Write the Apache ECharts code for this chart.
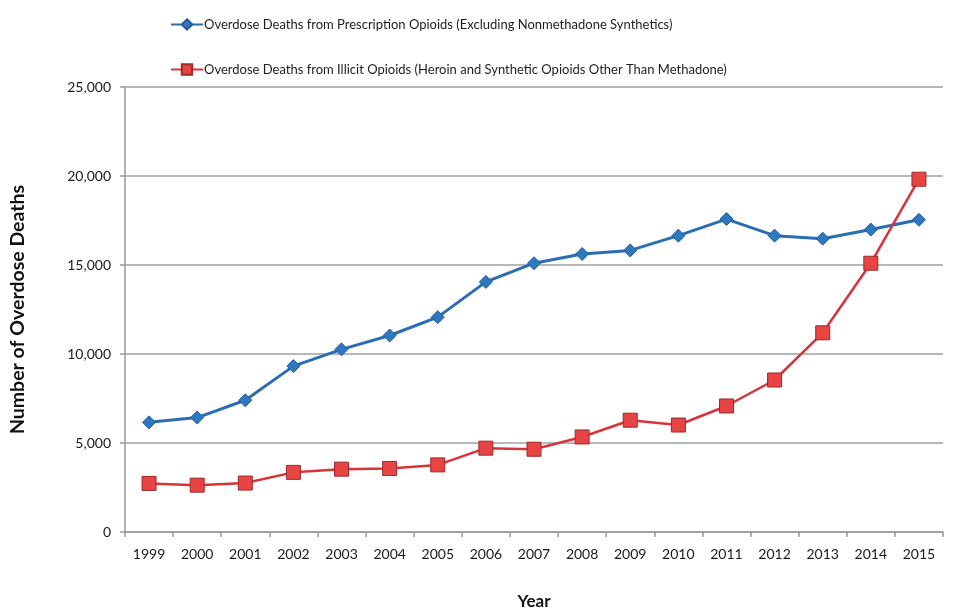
<!DOCTYPE html>
<html>
<head>
<meta charset="utf-8">
<script src="https://cdn.jsdelivr.net/npm/echarts@6/dist/echarts.min.js"></script>
<style>html,body{margin:0;padding:0;background:#fff;}#c{width:957px;height:615px;}</style>
</head>
<body>
<div id="c"></div>
<script>
const years = ['1999','2000','2001','2002','2003','2004','2005','2006','2007','2008','2009','2010','2011','2012','2013','2014','2015'];
const prescription = [6160, 6430, 7400, 9320, 10260, 11040, 12070, 14050, 15100, 15620, 15820, 16650, 17580, 16650, 16480, 16990, 17540];
const illicit = [2730, 2630, 2750, 3350, 3530, 3570, 3770, 4710, 4650, 5340, 6280, 6010, 7080, 8540, 11190, 15100, 19820];
const yTicks = [0, 5000, 10000, 15000, 20000, 25000];
const seriesNames = ['Overdose Deaths from Prescription Opioids (Excluding Nonmethadone Synthetics)', 'Overdose Deaths from Illicit Opioids (Heroin and Synthetic Opioids Other Than Methadone)'];

const font = 'Lato';
const chart = echarts.init(document.getElementById('c'), null, {renderer: 'canvas'});
chart.setOption({
  animation: false,
  backgroundColor: '#fff',
  textStyle: {fontFamily: font},
  legend: {
    orient: 'vertical',
    left: 165,
    top: 13,
    itemGap: 32,
    itemWidth: 32,
    itemHeight: 13,
    textStyle: {fontFamily: font, fontSize: 13, color: '#1e1e1e', padding: [0, 0, 0, -4]},
    data: seriesNames
  },
  grid: {left: 121, right: 14, top: 87, bottom: 82, containLabel: false},
  xAxis: {
    type: 'category',
    data: years,
    boundaryGap: true,
    name: 'Year',
    nameLocation: 'middle',
    nameGap: 61,
    nameTextStyle: {fontFamily: font, fontSize: 17, fontWeight: 'bold', color: '#111'},
    axisLine: {lineStyle: {color: '#9a9a9a', width: 1.5}},
    axisTick: {show: true, alignWithLabel: false, length: 5, lineStyle: {color: '#9a9a9a', width: 1.5}},
    axisLabel: {fontFamily: font, fontSize: 14, color: '#1a1a1a', margin: 15}
  },
  yAxis: {
    type: 'value',
    min: 0,
    max: 25000,
    interval: 5000,
    name: 'Number of Overdose Deaths',
    nameLocation: 'middle',
    nameGap: 97,
    nameRotate: 90,
    nameTextStyle: {fontFamily: font, fontSize: 19.5, fontWeight: 'bold', color: '#111'},
    axisLine: {show: true, lineStyle: {color: '#9a9a9a', width: 1.5}},
    axisTick: {show: true, length: 5, lineStyle: {color: '#9a9a9a', width: 1.5}},
    splitLine: {show: true, lineStyle: {color: '#a0a0a0', width: 1.5}},
    axisLabel: {
      fontFamily: font, fontSize: 14, color: '#1a1a1a', margin: 14,
      formatter: v => yTicks.includes(v) ? v.toLocaleString('en-US') : ''
    }
  },
  series: [
    {
      name: seriesNames[0],
      type: 'line',
      data: prescription,
      symbol: 'diamond',
      symbolSize: 13,
      lineStyle: {color: '#2a6db3', width: 3},
      itemStyle: {color: '#2e78c0', borderColor: '#1f5c9e', borderWidth: 1}
    },
    {
      name: seriesNames[1],
      type: 'line',
      data: illicit,
      symbol: 'rect',
      symbolSize: 14,
      lineStyle: {color: '#d9333a', width: 2.5},
      itemStyle: {color: '#e84444', borderColor: '#9c2a2a', borderWidth: 1}
    }
  ]
});
</script>
</body>
</html>
